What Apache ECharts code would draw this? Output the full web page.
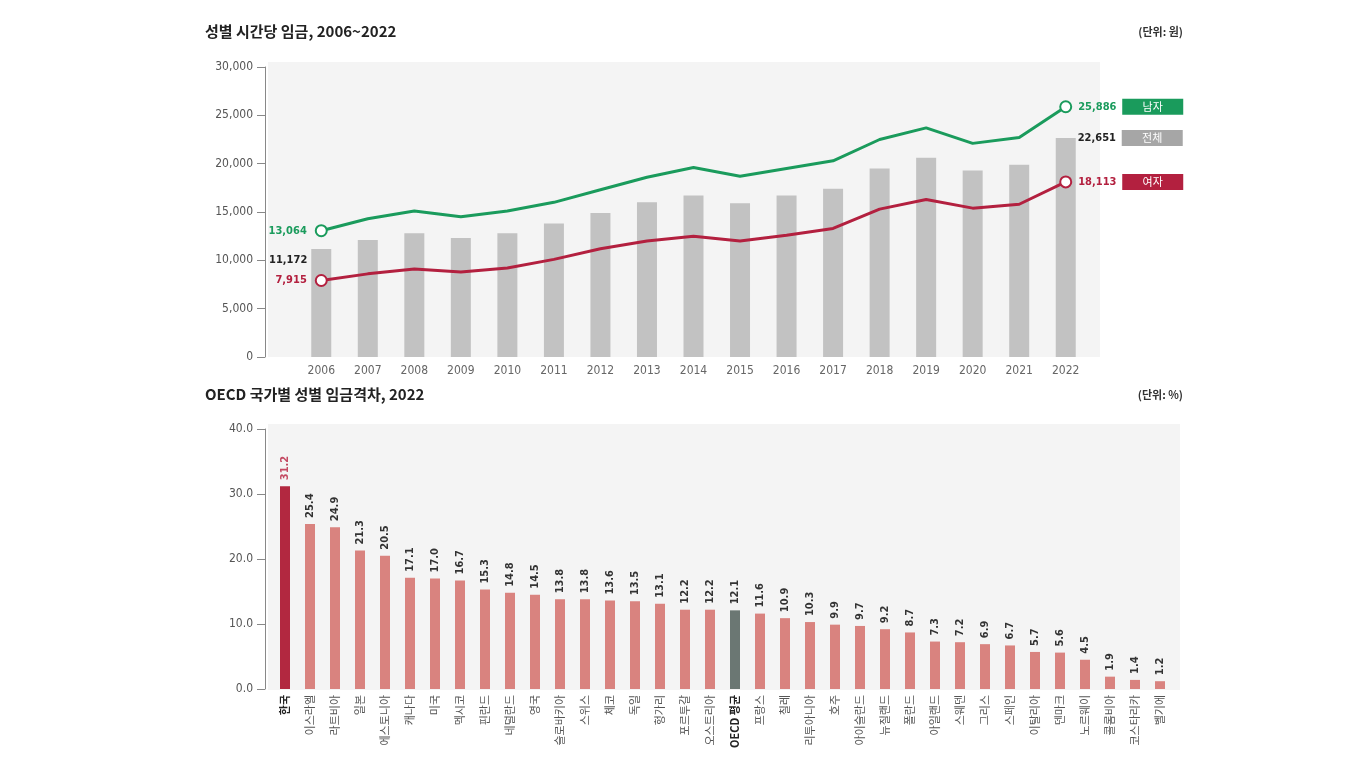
<!DOCTYPE html>
<html><head><meta charset="utf-8">
<script src="https://cdn.jsdelivr.net/npm/echarts@6/dist/echarts.min.js"></script>
<style>html,body{margin:0;padding:0;background:#fff}#c{width:1355px;height:758px}</style>
</head><body><div id="c"></div>
<script>
// ---- data ----
var years = ['2006','2007','2008','2009','2010','2011','2012','2013','2014','2015','2016','2017','2018','2019','2020','2021','2022'];
var wageAll = [11172,12100,12800,12300,12800,13800,14900,16000,16700,15900,16700,17400,19500,20600,19300,19900,22651];
var wageMale = [13064,14300,15100,14500,15100,16000,17300,18600,19600,18700,19500,20300,22500,23700,22100,22700,25886];
var wageFemale = [7915,8600,9100,8800,9200,10100,11200,12000,12500,12000,12600,13300,15300,16300,15400,15800,18113];
var topTicks = [0,5000,10000,15000,20000,25000,30000];

var countries = ['한국','이스라엘','라트비아','일본','에스토니아','캐나다','미국','멕시코','핀란드','네덜란드','영국','슬로바키아','스위스','체코','독일','헝가리','포르투갈','오스트리아','OECD 평균','프랑스','칠레','리투아니아','호주','아이슬란드','뉴질랜드','폴란드','아일랜드','스웨덴','그리스','스페인','이탈리아','덴마크','노르웨이','콜롬비아','코스타리카','벨기에'];
var gap = [31.2,25.4,24.9,21.3,20.5,17.1,17.0,16.7,15.3,14.8,14.5,13.8,13.8,13.6,13.5,13.1,12.2,12.2,12.1,11.6,10.9,10.3,9.9,9.7,9.2,8.7,7.3,7.2,6.9,6.7,5.7,5.6,4.5,1.9,1.4,1.2];
var bottomTicks = [0,10,20,30,40];

// ---- styles ----
var GREEN='#1a9b5c', RED='#b3203f', GRAY='#c2c2c2', BOXGRAY='#a6a6a6';
var PINK='#d9837f', KOREA='#b22840', OECD='#6b7773';
var NUM='"Liberation Sans Narrow","DejaVu Sans Condensed","Noto Sans CJK KR",sans-serif';
var KR='"Noto Sans CJK KR","Noto Sans",sans-serif';
function fmt(v){return v.toLocaleString('en-US');}
var last = years.length-1;

function lineData(arr, color, name){
  return arr.map(function(v,i){
    var item = {value:v};
    if(i===0){
      item.symbol='circle';
      item.label={show:true,position:'left',distance:8,formatter:fmt(v),color:color,fontFamily:NUM,fontWeight:'bold',fontSize:11};
    } else if(i===last){
      item.symbol='circle';
      item.label={show:true,position:'right',distance:6,
        formatter:'{v|'+fmt(v)+'}{b|'+name+'}',
        rich:{v:{width:44,color:color,fontFamily:NUM,fontWeight:'bold',fontSize:11},
              b:{width:55,height:16,lineHeight:16,backgroundColor:color,color:'#fff',align:'center',fontFamily:KR,fontSize:11,padding:[0,3]}}};
    } else item.symbol='none';
    return item;
  });
}
var barAllData = wageAll.map(function(v,i){
  var item={value:v};
  if(i===0) item.label={show:true,position:[-4,11],align:'right',verticalAlign:'middle',formatter:fmt(v),color:'#222',fontFamily:NUM,fontWeight:'bold',fontSize:11};
  if(i===last) item.label={show:true,position:[22,0],align:'left',verticalAlign:'middle',
     formatter:'{v|'+fmt(v)+'}{b|전체}',
     rich:{v:{width:44,color:'#222',fontFamily:NUM,fontWeight:'bold',fontSize:11},
           b:{width:55,height:16,lineHeight:16,backgroundColor:BOXGRAY,color:'#fff',align:'center',fontFamily:KR,fontSize:11,padding:[0,3]}}};
  return item;
});
var gapData = gap.map(function(v,i){
  var c = countries[i]==='한국'?KOREA:(countries[i]==='OECD 평균'?OECD:PINK);
  return {value:v,itemStyle:{color:c},label:{color:countries[i]==='한국'?'#c44a63':'#333'}};
});
var catData = countries.map(function(c){
  if(c==='한국'||c==='OECD 평균') return {value:c,textStyle:{fontWeight:'bold',color:'#222'}};
  return c;
});

var chart = echarts.init(document.getElementById('c'),null,{renderer:'canvas'});
chart.setOption({
  backgroundColor:'#fff',
  animation:false,
  graphic:[
    {type:'rect',z:-10,shape:{x:268,y:62,width:832,height:295},style:{fill:'#f4f4f4'}},
    {type:'rect',z:-10,shape:{x:268,y:424,width:912,height:266},style:{fill:'#f4f4f4'}},
    {type:'text',left:205,top:24,style:{text:'성별 시간당 임금, 2006~2022',font:'bold 15px '+KR,fill:'#222'}},
    {type:'text',right:172,top:26,style:{text:'(단위: 원)',font:'bold 11px '+KR,fill:'#333'}},
    {type:'text',left:205,top:387,style:{text:'OECD 국가별 성별 임금격차, 2022',font:'bold 15px '+KR,fill:'#222'}},
    {type:'text',right:172,top:389,style:{text:'(단위: %)',font:'bold 11px '+KR,fill:'#333'}}
  ],
  grid:[
    {left:298,top:67,width:791,height:290},
    {left:272.5,top:429,width:900,height:260}
  ],
  xAxis:[
    {type:'category',gridIndex:0,data:years,axisLine:{show:false},axisTick:{show:false},
     axisLabel:{color:'#666',fontFamily:NUM,fontSize:12,margin:8}},
    {type:'category',gridIndex:1,data:catData,axisLine:{show:false},axisTick:{show:false},
     axisLabel:{rotate:90,color:'#555',fontFamily:KR,fontSize:11,margin:6,interval:0}}
  ],
  yAxis:[
    {type:'value',gridIndex:0,min:topTicks[0],max:topTicks[topTicks.length-1],interval:5000,offset:33,
     axisLine:{show:true,lineStyle:{color:'#888'}},axisTick:{show:true,inside:false,length:8,lineStyle:{color:'#888'}},
     splitLine:{show:false},axisLabel:{color:'#555',fontFamily:NUM,fontSize:12,margin:12,formatter:function(v){return fmt(v);}}},
    {type:'value',gridIndex:1,min:bottomTicks[0],max:bottomTicks[bottomTicks.length-1],interval:10,offset:7.5,
     axisLine:{show:true,lineStyle:{color:'#888'}},axisTick:{show:true,length:8,lineStyle:{color:'#888'}},
     splitLine:{show:false},axisLabel:{color:'#555',fontFamily:NUM,fontSize:12,margin:12,formatter:function(v){return v.toFixed(1);}}}
  ],
  series:[
    {type:'bar',name:'전체',xAxisIndex:0,yAxisIndex:0,data:barAllData,barWidth:20,itemStyle:{color:GRAY},z:1},
    {type:'line',name:'남자',xAxisIndex:0,yAxisIndex:0,data:lineData(wageMale,GREEN,'남자'),
     lineStyle:{color:GREEN,width:3},itemStyle:{color:'#fff',borderColor:GREEN,borderWidth:2},symbolSize:11,z:3},
    {type:'line',name:'여자',xAxisIndex:0,yAxisIndex:0,data:lineData(wageFemale,RED,'여자'),
     lineStyle:{color:RED,width:3},itemStyle:{color:'#fff',borderColor:RED,borderWidth:2},symbolSize:11,z:3},
    {type:'bar',name:'격차',xAxisIndex:1,yAxisIndex:1,data:gapData,barWidth:10,
     label:{show:true,position:'top',rotate:90,align:'left',verticalAlign:'middle',distance:6,
            fontFamily:NUM,fontWeight:'bold',fontSize:11,formatter:function(p){return p.value.toFixed(1);}}}
  ]
});
</script></body></html>
